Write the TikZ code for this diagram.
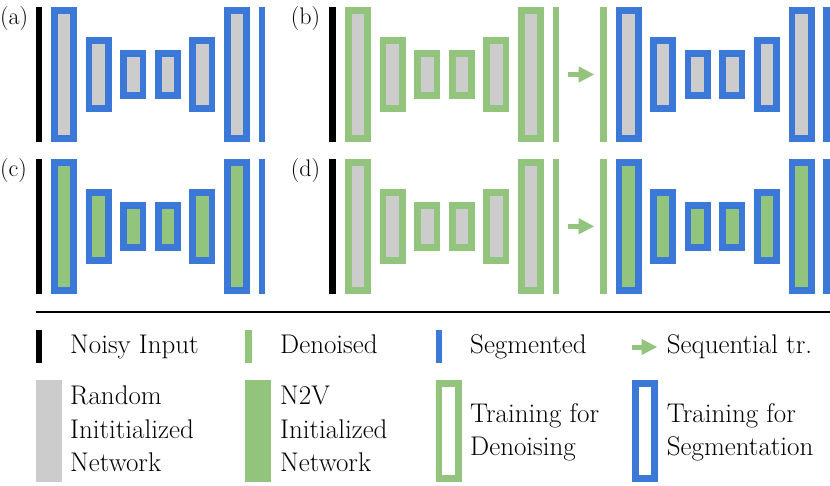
\documentclass[tikz,border=0pt]{standalone}
\usetikzlibrary{arrows.meta}

\definecolor{segblue}{HTML}{3C78D8}
\definecolor{dngreen}{HTML}{93C47D}
\definecolor{netgray}{HTML}{CCCCCC}

\tikzset{x=1pt, y=-1pt,
    layer/.style={rectangle, line width=6.7pt, inner sep=0pt, outer sep=0pt,
        minimum width=19.3pt},
    data bar/.style={rectangle, inner sep=0pt, outer sep=0pt,
        minimum width=6.6pt, minimum height=134.4pt},
    key bar/.style={rectangle, inner sep=0pt, outer sep=0pt,
        minimum width=6.6pt, minimum height=33.3pt},
    key box/.style={rectangle, inner sep=0pt, outer sep=0pt,
        minimum width=26pt, minimum height=101.7pt},
    key frame/.style={rectangle, line width=6.7pt, inner sep=0pt, outer sep=0pt,
        minimum width=19.3pt, minimum height=95pt, fill=white},
    seq arrow/.style={dngreen, line width=5pt,
        -{Triangle[length=15.7pt,width=15pt]}},
    panel label/.style={anchor=base west, inner sep=0pt,
        font=\fontsize{24}{28}\selectfont},
    key text/.style={anchor=base west, inner sep=0pt, align=left,
        font=\fontsize{27}{33.6}\selectfont},
    }

% one network: name, x of first layer, row centre, frame colour, fill colour
\newcommand{\unet}[5]{%
  \foreach \k/\h in {0/134.4,1/74.6,2/48.6,3/48.6,4/74.6,5/134.4}
    \node[layer, draw=#4, fill=#5, minimum height={\h*1pt-6.7pt}]
      (#1-\k) at (#2+\k*34.6+13,#3) {};
}

\begin{document}
\begin{tikzpicture}
\useasboundingbox (0,0) rectangle (830,485);

% (a)
\node[panel label] (lab a) at (0,24.5) {(a)};
\node[data bar, fill=black] (a in) at (39,74.5) {};
\unet{a}{51}{74.5}{segblue}{netgray}
\node[data bar, fill=segblue] (a out) at (262,74.5) {};

% (b)
\node[panel label] (lab b) at (290.7,24.5) {(b)};
\node[data bar, fill=black] (b in) at (332.65,74.5) {};
\unet{b1}{345}{74.5}{dngreen}{netgray}
\node[data bar, fill=dngreen] (b den) at (556,74.5) {};
\node[data bar, fill=dngreen] (b den2) at (603.65,74.5) {};
\draw[seq arrow] ([xshift=8.4pt]b den.east) -- ([xshift=-6pt]b den2.west);
\unet{b2}{615.5}{74.5}{segblue}{netgray}
\node[data bar, fill=segblue] (b out) at (826.55,74.5) {};

% (c)
\node[panel label] (lab c) at (0,176.5) {(c)};
\node[data bar, fill=black] (c in) at (39,226.3) {};
\unet{c}{51}{226.3}{segblue}{dngreen}
\node[data bar, fill=segblue] (c out) at (262,226.3) {};

% (d)
\node[panel label] (lab d) at (290.7,176.5) {(d)};
\node[data bar, fill=black] (d in) at (332.65,226.3) {};
\unet{d1}{345}{226.3}{dngreen}{netgray}
\node[data bar, fill=dngreen] (d den) at (556,226.3) {};
\node[data bar, fill=dngreen] (d den2) at (603.65,226.3) {};
\draw[seq arrow] ([xshift=8.4pt]d den.east) -- ([xshift=-6pt]d den2.west);
\unet{d2}{615.5}{226.3}{segblue}{dngreen}
\node[data bar, fill=segblue] (d out) at (826.55,226.3) {};

% legend
\draw[line width=1.3pt] (35.7,312) -- (830,312);

\node[key bar, fill=black] (k noisy) at (39,346.7) {};
\node[key text] (t noisy) at (70,353.3) {Noisy Input};
\node[key bar, fill=dngreen] (k den) at (248.35,346.7) {};
\node[key text] (t den) at (280,353.3) {Denoised};
\node[key bar, fill=segblue] (k seg) at (439,346.7) {};
\node[key text] (t seg) at (470,353.3) {Segmented};
\coordinate (k seq a) at (631.7,347);
\coordinate (k seq b) at (657.3,347);
\draw[seq arrow] (k seq a) -- (k seq b);
\node[key text] (t seq) at (666.7,353.3) {Sequential tr.};

\node[key box, fill=netgray] (k rand) at (48.7,430.85) {};
\node[key text] (t rand) at (70,471.7) {Random\\Inititialized\\Network};
\node[key box, fill=dngreen] (k n2v) at (257.85,430.85) {};
\node[key text] (t n2v) at (280,471.7) {N2V\\Initialized\\Network};
\node[key frame, draw=dngreen] (k tden) at (448.7,430.85) {};
\node[key text] (t tden) at (470,455.7) {Training for\\Denoising};
\node[key frame, draw=segblue] (k tseg) at (645,430.85) {};
\node[key text] (t tseg) at (666.7,455.7) {Training for\\Segmentation};
\end{tikzpicture}
\end{document}
